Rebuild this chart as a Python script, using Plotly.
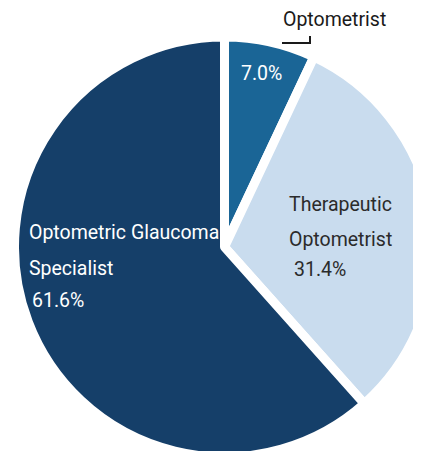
import plotly.graph_objects as go

# ---- data ----
labels = ["Optometrist", "Therapeutic Optometrist", "Optometric Glaucoma Specialist"]
label_lines = [["Optometrist"], ["Therapeutic", "Optometrist"], ["Optometric Glaucoma", "Specialist"]]
values = [7.0, 31.4, 61.6]
colors = ["#1a6596", "#c9dcee", "#153f69"]
text_colors = ["#ffffff", "#2b2b2b", "#ffffff"]

# ---- canvas (figure larger than window so the pie is cropped like the reference) ----
W, H = 440, 462
M = 8  # page body margin
FONT = "Roboto, Liberation Sans, sans-serif"
FS = 19.5


def px(x):
    return (x - M) / W


def py(y):
    return 1 - (y - M) / H


# pie placement (pixel box on the page)
cx, cy, r = 224.5, 247, 210
dom_x = [px(cx - r), px(cx + r)]
dom_y = [py(cy + r), py(cy - r)]

fig = go.Figure(
    go.Pie(
        labels=labels,
        values=values,
        sort=False,
        direction="clockwise",
        rotation=0,
        marker=dict(colors=colors, line=dict(color="#ffffff", width=9)),
        textinfo="none",
        hoverinfo="label+percent",
        showlegend=False,
        domain=dict(x=dom_x, y=dom_y),
    )
)

pct = [f"{v:.1f}%" for v in values]

# text placement (page pixels: left edge, vertical centre)
placements = [
    ([(281, 19)], (239, 73)),
    ([(287, 204), (287, 239)], (292, 269)),
    ([(27, 232), (27, 268)], (30, 300)),
]
outside = [True, False, False]

annotations = []
for i in range(len(labels)):
    line_pos, pct_pos = placements[i]
    lcol = "#1a1a1a" if outside[i] else text_colors[i]
    for txt, (x, y) in zip(label_lines[i], line_pos):
        annotations.append(dict(
            x=px(x), y=py(y), xref="paper", yref="paper", text=txt,
            showarrow=False, xanchor="left", yanchor="middle",
            font=dict(family=FONT, size=FS, color=lcol),
        ))
    annotations.append(dict(
        x=px(pct_pos[0]), y=py(pct_pos[1]), xref="paper", yref="paper", text=pct[i],
        showarrow=False, xanchor="left", yanchor="middle",
        font=dict(family=FONT, size=FS, color=text_colors[i]),
    ))

# leader line for the outside label
shapes = [dict(
    type="path", xref="paper", yref="paper",
    path=f"M {px(282)} {py(43)} L {px(310)} {py(43)} L {px(310)} {py(36)}",
    line=dict(color="#1a1a1a", width=2),
)]

fig.update_layout(
    width=W, height=H,
    margin=dict(l=0, r=0, t=0, b=0),
    paper_bgcolor="#ffffff",
    plot_bgcolor="#ffffff",
    annotations=annotations,
    shapes=shapes,
)

fig.write_html("out.html")
